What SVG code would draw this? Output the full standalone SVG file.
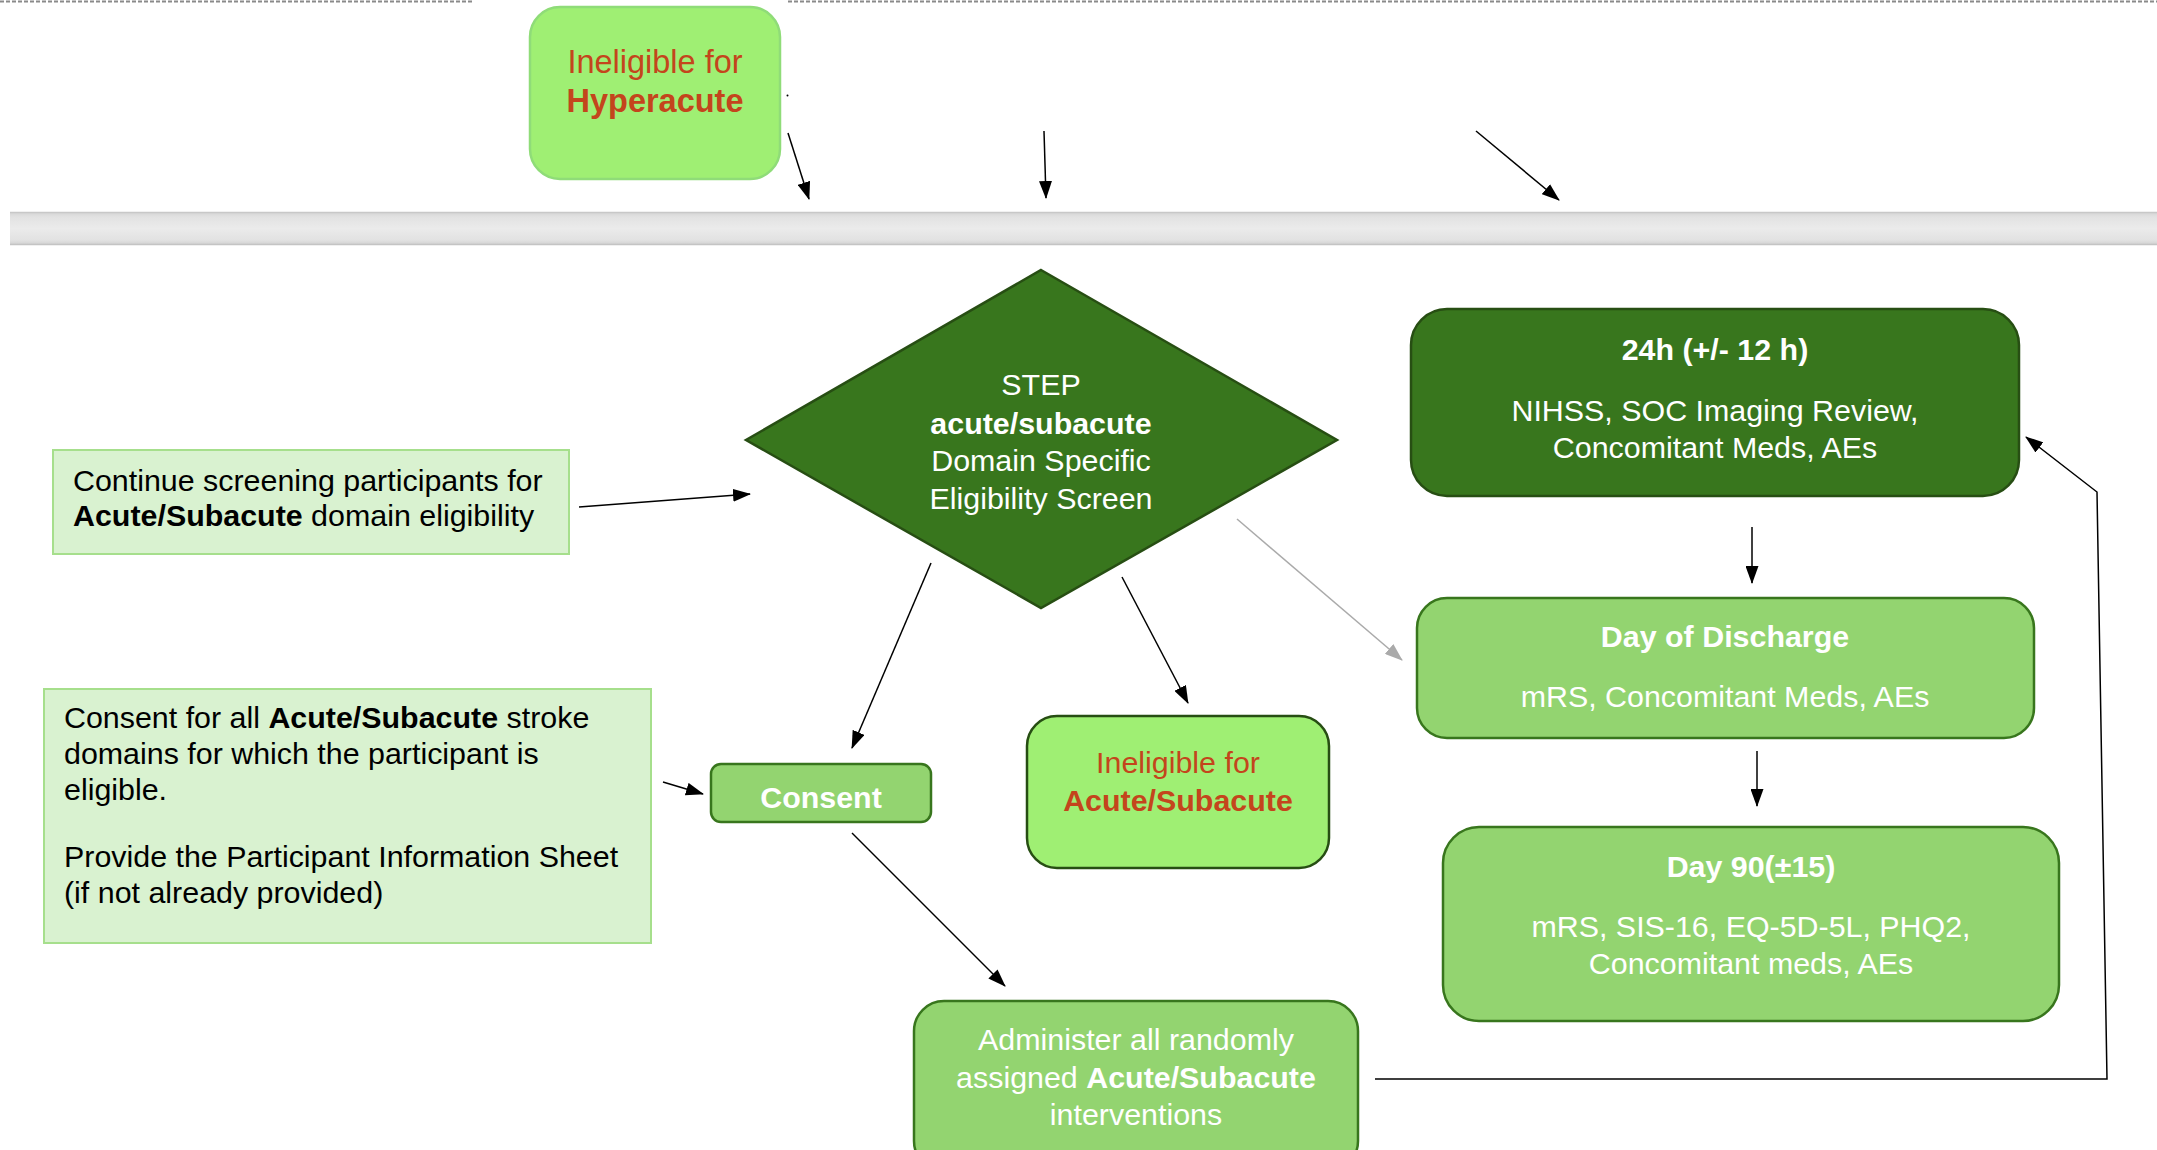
<svg xmlns="http://www.w3.org/2000/svg" width="2157" height="1150" viewBox="0 0 2157 1150">
  <defs>
    <marker id="arrow" markerUnits="userSpaceOnUse" markerWidth="18" markerHeight="13" refX="17" refY="6.5" orient="auto">
      <path d="M0,0 L18,6.5 L0,13 z" fill="#000"/>
    </marker>
    <marker id="arrowGrey" markerUnits="userSpaceOnUse" markerWidth="18" markerHeight="13" refX="17" refY="6.5" orient="auto">
      <path d="M0,0 L18,6.5 L0,13 z" fill="#aaaaaa"/>
    </marker>
    <linearGradient id="band" x1="0" y1="0" x2="0" y2="1">
      <stop offset="0" stop-color="#d4d4d4"/>
      <stop offset="0.15" stop-color="#e2e2e2"/>
      <stop offset="0.5" stop-color="#ebebeb"/>
      <stop offset="0.85" stop-color="#e2e2e2"/>
      <stop offset="1" stop-color="#d0d0d0"/>
    </linearGradient>
    <style>
      text { font-family: "Liberation Sans", Arial, sans-serif; font-size: 30.4px; }
      .c { text-anchor: middle; }
      .b { font-weight: bold; }
      .w { fill: #ffffff; }
      .k { fill: #000000; }
      .r { fill: #c4451c; }
      .big { font-size: 32.5px; }
      .dark { fill: #38761d; stroke: #274e13; stroke-width: 2.5; }
      .mid { fill: #93d470; stroke: #38761d; stroke-width: 2.5; }
      .bright { fill: #9fef73; stroke: #274e13; stroke-width: 2.5; }
      .soft { fill: #d9f2d0; stroke: #a6df8c; stroke-width: 2; }
      .edge { fill: none; stroke: #000; stroke-width: 1.5; }
    </style>
  </defs>

  <rect width="2157" height="1150" fill="#ffffff"/>

  <!-- dashed page rule along the top -->
  <g stroke="#8a8a8a" stroke-width="2" stroke-dasharray="4,2">
    <line x1="0" y1="1.5" x2="474" y2="1.5"/>
    <line x1="788" y1="1.5" x2="2157" y2="1.5"/>
  </g>

  <!-- grey divider band -->
  <g id="band-divider">
    <rect x="10" y="212" width="2147" height="33" fill="url(#band)"/>
    <line x1="10" y1="212.5" x2="2157" y2="212.5" stroke="#c8c8c8" stroke-width="1.5"/>
    <line x1="10" y1="244.5" x2="2157" y2="244.5" stroke="#c4c4c4" stroke-width="1.5"/>
  </g>

  <!-- connectors -->
  <g id="connectors">
    <line class="edge" x1="788" y1="133" x2="809" y2="199" marker-end="url(#arrow)"/>
    <circle cx="787.5" cy="95.5" r="1" fill="#000"/>
    <line class="edge" x1="1044" y1="131" x2="1046" y2="198" marker-end="url(#arrow)"/>
    <line class="edge" x1="1476" y1="131" x2="1559" y2="200" marker-end="url(#arrow)"/>
    <line class="edge" x1="579" y1="507" x2="750" y2="494" marker-end="url(#arrow)"/>
    <line class="edge" x1="931" y1="563" x2="852" y2="748" marker-end="url(#arrow)"/>
    <line class="edge" x1="1122" y1="577" x2="1188" y2="703" marker-end="url(#arrow)"/>
    <line x1="1237" y1="519" x2="1402" y2="660" fill="none" stroke="#aaaaaa" stroke-width="1.5" marker-end="url(#arrowGrey)"/>
    <line class="edge" x1="663" y1="782" x2="703" y2="794" marker-end="url(#arrow)"/>
    <line class="edge" x1="852" y1="833" x2="1005" y2="986" marker-end="url(#arrow)"/>
    <line class="edge" x1="1752" y1="527" x2="1752" y2="583" marker-end="url(#arrow)"/>
    <line class="edge" x1="1757" y1="751" x2="1757" y2="806" marker-end="url(#arrow)"/>
    <polyline class="edge" points="1375,1079 2107,1079 2097,492 2026,437" marker-end="url(#arrow)"/>
  </g>

  <g id="ineligible-hyperacute">
    <rect x="530" y="7" width="250" height="172" rx="30" fill="#9fef73" stroke="#8fdc78" stroke-width="2.5"/>
    <text class="c r big" x="655" y="73">Ineligible for</text>
    <text class="c r b big" x="655" y="112">Hyperacute</text>
  </g>

  <g id="eligibility-screen">
    <polygon points="1041,270 1337,440 1041,608 746,440" class="dark"/>
    <text class="c w" x="1041" y="395">STEP</text>
    <text class="c w b" x="1041" y="434">acute/subacute</text>
    <text class="c w" x="1041" y="471">Domain Specific</text>
    <text class="c w" x="1041" y="509">Eligibility Screen</text>
  </g>

  <g id="continue-screening">
    <rect x="53" y="450" width="516" height="104" class="soft"/>
    <text class="k" x="73" y="491">Continue screening participants for</text>
    <text class="k" x="73" y="526"><tspan class="b">Acute/Subacute</tspan> domain eligibility</text>
  </g>

  <g id="consent-note">
    <rect x="44" y="689" width="607" height="254" class="soft"/>
    <text class="k" x="64" y="728">Consent for all <tspan class="b">Acute/Subacute</tspan> stroke</text>
    <text class="k" x="64" y="764">domains for which the participant is</text>
    <text class="k" x="64" y="800">eligible.</text>
    <text class="k" x="64" y="867">Provide the Participant Information Sheet</text>
    <text class="k" x="64" y="903">(if not already provided)</text>
  </g>

  <g id="consent">
    <rect x="711" y="764" width="220" height="58" rx="10" class="mid"/>
    <text class="c w b" x="821" y="808">Consent</text>
  </g>

  <g id="ineligible-acute">
    <rect x="1027" y="716" width="302" height="152" rx="30" class="bright"/>
    <text class="c r" x="1178" y="773">Ineligible for</text>
    <text class="c r b" x="1178" y="811">Acute/Subacute</text>
  </g>

  <g id="administer">
    <rect x="914" y="1001" width="444" height="170" rx="30" class="mid"/>
    <text class="c w" x="1136" y="1050">Administer all randomly</text>
    <text class="c w" x="1136" y="1088">assigned <tspan class="b">Acute/Subacute</tspan></text>
    <text class="c w" x="1136" y="1125">interventions</text>
  </g>

  <g id="visit-24h">
    <rect x="1411" y="309" width="608" height="187" rx="36" class="dark"/>
    <text class="c w b" x="1715" y="360">24h (+/- 12 h)</text>
    <text class="c w" x="1715" y="421">NIHSS, SOC Imaging Review,</text>
    <text class="c w" x="1715" y="458">Concomitant Meds, AEs</text>
  </g>

  <g id="visit-discharge">
    <rect x="1417" y="598" width="617" height="140" rx="30" class="mid"/>
    <text class="c w b" x="1725" y="647">Day of Discharge</text>
    <text class="c w" x="1725" y="707">mRS, Concomitant Meds, AEs</text>
  </g>

  <g id="visit-day90">
    <rect x="1443" y="827" width="616" height="194" rx="36" class="mid"/>
    <text class="c w b" x="1751" y="877">Day 90(±15)</text>
    <text class="c w" x="1751" y="937">mRS, SIS-16, EQ-5D-5L, PHQ2,</text>
    <text class="c w" x="1751" y="974">Concomitant meds, AEs</text>
  </g>
</svg>
